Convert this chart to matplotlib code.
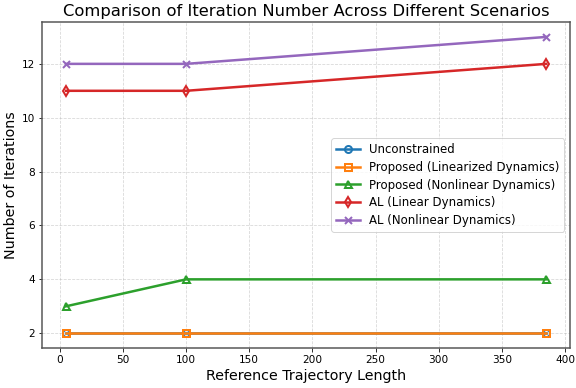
import matplotlib
matplotlib.use("Agg")
import matplotlib.pyplot as plt

traj_len = [5, 100, 385]
unconstrained = [2, 2, 2]
proposed_lin = [2, 2, 2]
proposed_nonlin = [3, 4, 4]
al_lin = [11, 11, 12]
al_nonlin = [12, 12, 13]

fig, ax = plt.subplots(figsize=(8, 388/72), dpi=72)
kw = dict(linewidth=2.5, markersize=7, markerfacecolor='none', markeredgewidth=2)
ax.plot(traj_len, unconstrained, marker='o', color='#1f77b4', label='Unconstrained', **kw)
ax.plot(traj_len, proposed_lin, marker='s', color='#ff7f0e', label='Proposed (Linearized Dynamics)', **kw)
ax.plot(traj_len, proposed_nonlin, marker='^', color='#2ca02c', label='Proposed (Nonlinear Dynamics)', **kw)
ax.plot(traj_len, al_lin, marker='d', color='#d62728', label='AL (Linear Dynamics)', **kw)
ax.plot(traj_len, al_nonlin, marker='x', color='#9467bd', label='AL (Nonlinear Dynamics)', **kw)

ax.set_title('Comparison of Iteration Number Across Different Scenarios', fontsize=16.4)
ax.set_xlabel('Reference Trajectory Length', fontsize=14.2)
ax.set_ylabel('Number of Iterations', fontsize=14.2)
ax.tick_params(labelsize=10.5)
ax.grid(True, linestyle='--', alpha=0.5)
for s in ax.spines.values():
    s.set_color('#555555')
    s.set_linewidth(1.5)
ax.legend(loc='center right', fontsize=11.8, labelspacing=0.4)
fig.subplots_adjust(left=0.073, right=0.99, bottom=0.103, top=0.943)
fig.savefig('out.png', dpi=72)
